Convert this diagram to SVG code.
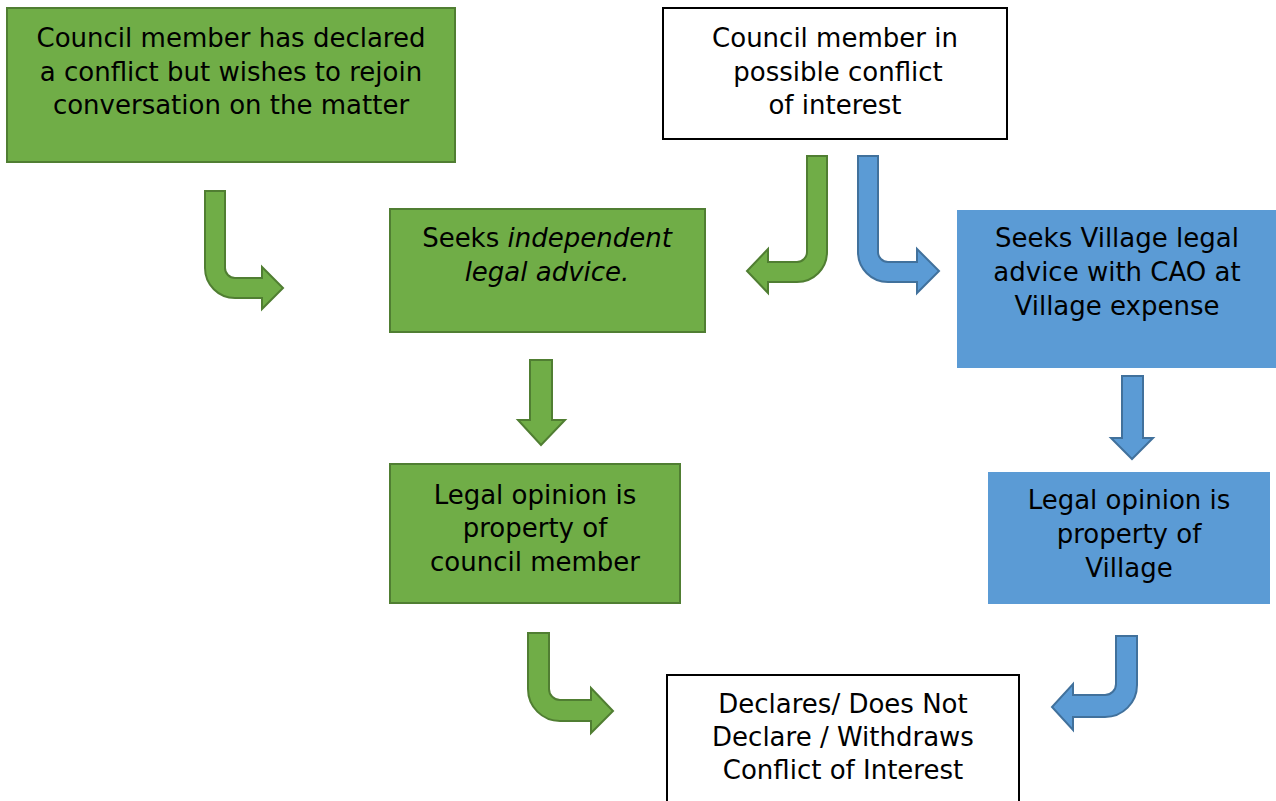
<svg xmlns="http://www.w3.org/2000/svg" width="1276" height="801" viewBox="0 0 1276 801">
<style>
  .g { fill: #70AD47; stroke: #507E32; stroke-width: 2; }
  .b { fill: #5B9BD5; stroke: none; }
  .w { fill: #FFFFFF; stroke: #000000; stroke-width: 2; }
  .ga { fill: #70AD47; stroke: #507E32; stroke-width: 2; stroke-linejoin: miter; }
  .ba { fill: #5B9BD5; stroke: #41719C; stroke-width: 2; stroke-linejoin: miter; }
  text { font-family: "DejaVu Sans", "Liberation Sans", sans-serif; font-size: 26px; fill: #000000; text-anchor: middle; }
  .i { font-style: italic; }
</style>
<rect width="1276" height="801" fill="#FFFFFF"/>

<g id="node-declared">
  <rect class="g" x="7" y="8" width="448" height="154"/>
  <text x="231" y="47">Council member has declared</text>
  <text x="231" y="81">a conflict but wishes to rejoin</text>
  <text x="231" y="114">conversation on the matter</text>
</g>

<g id="node-possible">
  <rect class="w" x="663" y="8" width="344" height="131"/>
  <text x="835" y="47">Council member in</text>
  <text x="838" y="81">possible conflict</text>
  <text x="835" y="114">of interest</text>
</g>

<g id="node-independent">
  <rect class="g" x="390" y="209" width="315" height="123"/>
  <text x="547" y="247">Seeks <tspan class="i">independent</tspan></text>
  <text x="547" y="281" class="i">legal advice.</text>
</g>

<g id="node-village-advice">
  <rect class="b" x="957" y="210" width="321" height="158"/>
  <text x="1117" y="247">Seeks Village legal</text>
  <text x="1117" y="281">advice with CAO at</text>
  <text x="1117" y="315">Village expense</text>
</g>

<g id="node-opinion-member">
  <rect class="g" x="390" y="464" width="290" height="139"/>
  <text x="535" y="504">Legal opinion is</text>
  <text x="535" y="537">property of</text>
  <text x="535" y="571">council member</text>
</g>

<g id="node-opinion-village">
  <rect class="b" x="988" y="472" width="282" height="132"/>
  <text x="1129" y="509">Legal opinion is</text>
  <text x="1129" y="543">property of</text>
  <text x="1129" y="577">Village</text>
</g>

<g id="node-declares">
  <rect class="w" x="667" y="675" width="352" height="130"/>
  <text x="843" y="713">Declares/ Does Not</text>
  <text x="843" y="746">Declare / Withdraws</text>
  <text x="843" y="779">Conflict of Interest</text>
</g>

<g id="connectors">
  <path class="ga" d="M205,191 H225 V268 A10,10 0 0 0 235,278 H262 V267 L283,288 L262,309 V298 H235 A30,30 0 0 1 205,268 Z"/>
  <path class="ga" d="M827,156 V252 A30,30 0 0 1 797,282 H768 V293 L747,271 L768,249 V262 H797 A10,10 0 0 0 807,252 V156 Z"/>
  <path class="ba" d="M858,156 H878 V252 A10,10 0 0 0 888,262 H917 V249 L939,271 L917,293 V282 H888 A30,30 0 0 1 858,252 Z"/>
  <path class="ga" d="M530,360 H552 V420 H565 L541,445 L518,420 H530 Z"/>
  <path class="ba" d="M1122,376 H1143 V438 H1153 L1132,459 L1111,438 H1122 Z"/>
  <path class="ga" d="M528,633 H549 V689 A11,11 0 0 0 560,700 H591 V688 L613,711 L591,733 V721 H560 A32,32 0 0 1 528,689 Z"/>
  <path class="ba" d="M1137,636 V685 A32,32 0 0 1 1105,717 H1073 V730 L1052,707 L1073,684 V695 H1105 A11,11 0 0 0 1116,684 V636 Z"/>
</g>
</svg>
